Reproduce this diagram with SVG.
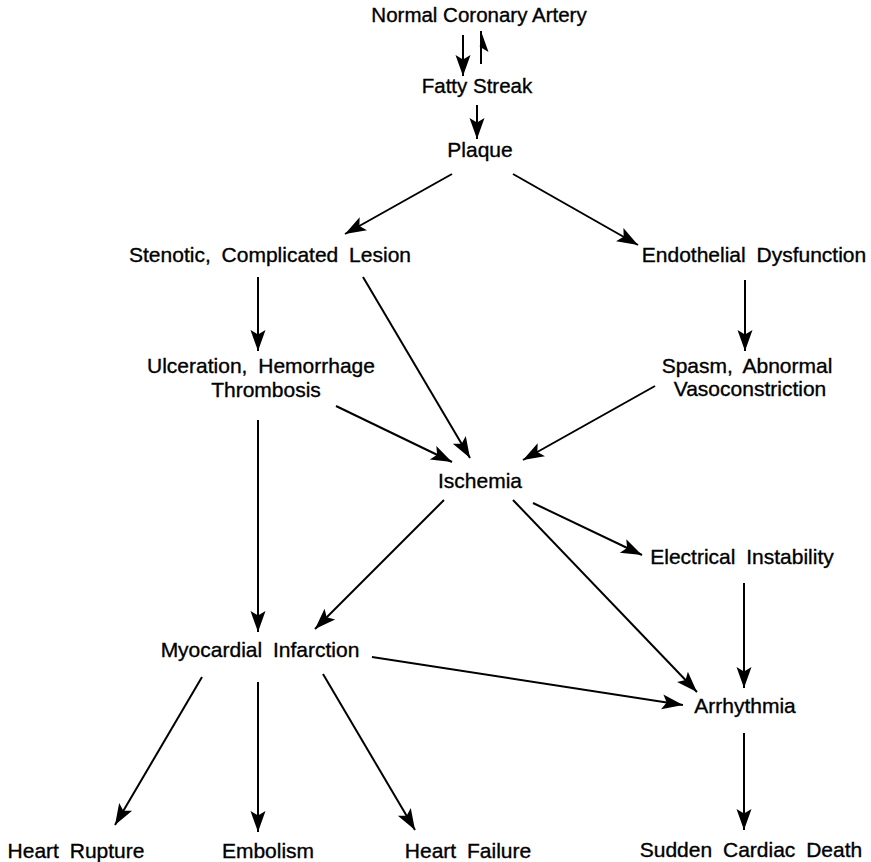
<svg xmlns="http://www.w3.org/2000/svg" width="871" height="862" viewBox="0 0 871 862">
  <style>
    .bg { fill: #ffffff; }
    .lbl { font-family: "Liberation Sans", Arial, Helvetica, sans-serif; font-size: 21px; fill: #000000; stroke: #000000; stroke-width: 0.35px; text-anchor: middle; word-spacing: 5px; }
    .tight { word-spacing: 0px; font-size: 20.5px; }
    .edge { stroke: #000000; stroke-width: 2; fill: none; marker-end: url(#head); }
    .harpoon { marker-end: url(#halfhead); }
  </style>
  <defs>
    <!-- filled arrowhead, slightly notched at the back -->
    <marker id="head" markerUnits="userSpaceOnUse" markerWidth="24" markerHeight="18" viewBox="-1 -9 24 18" refX="21" refY="0" orient="auto">
      <path d="M21,0 L0,-7.5 L4.5,0 L0,7.5 Z" fill="#000000"/>
    </marker>
    <!-- single-barbed head for the reverse step -->
    <marker id="halfhead" markerUnits="userSpaceOnUse" markerWidth="24" markerHeight="18" viewBox="-1 -9 24 18" refX="21" refY="0" orient="auto">
      <path d="M21,0 L0,7.5 L4.5,0 L5,-1.2 Z" fill="#000000"/>
    </marker>
  </defs>

  <rect class="bg" x="0" y="0" width="871" height="862"/>

  <g id="connectors">
    <line class="edge" x1="463" y1="35" x2="463" y2="76"/>
    <line class="edge harpoon" x1="481" y1="64" x2="481" y2="31"/>
    <line class="edge" x1="477" y1="105" x2="477" y2="139"/>
    <line class="edge" x1="452" y1="174" x2="345" y2="234"/>
    <line class="edge" x1="513" y1="174" x2="638" y2="245"/>
    <line class="edge" x1="258" y1="277" x2="258" y2="351"/>
    <line class="edge" x1="363" y1="277" x2="470" y2="458"/>
    <line class="edge" x1="745" y1="280" x2="745" y2="351"/>
    <line class="edge" x1="336" y1="406" x2="452" y2="462"/>
    <line class="edge" x1="655" y1="386" x2="523" y2="460"/>
    <line class="edge" x1="258" y1="420" x2="258" y2="632"/>
    <line class="edge" x1="444" y1="500" x2="315" y2="629"/>
    <line class="edge" x1="533" y1="503" x2="642" y2="555"/>
    <line class="edge" x1="513" y1="500" x2="697" y2="692"/>
    <line class="edge" x1="744" y1="583" x2="744" y2="688"/>
    <line class="edge" x1="372" y1="657" x2="683" y2="705"/>
    <line class="edge" x1="744" y1="733" x2="744" y2="830"/>
    <line class="edge" x1="202" y1="677" x2="115" y2="825"/>
    <line class="edge" x1="258" y1="682" x2="258" y2="832"/>
    <line class="edge" x1="323" y1="674" x2="415" y2="830"/>
  </g>

  <g id="normal-artery"><text class="lbl tight" x="479" y="22">Normal Coronary Artery</text></g>
  <g id="fatty-streak"><text class="lbl tight" x="477" y="93">Fatty Streak</text></g>
  <g id="plaque"><text class="lbl" x="480" y="157">Plaque</text></g>
  <g id="stenotic-lesion"><text class="lbl" x="270" y="262">Stenotic, Complicated Lesion</text></g>
  <g id="endothelial-dysfunction"><text class="lbl" x="754" y="262">Endothelial Dysfunction</text></g>
  <g id="ulceration">
    <text class="lbl" x="261" y="373">Ulceration, Hemorrhage</text>
    <text class="lbl" x="266" y="397">Thrombosis</text>
  </g>
  <g id="spasm">
    <text class="lbl" x="747" y="373">Spasm, Abnormal</text>
    <text class="lbl" x="750" y="396">Vasoconstriction</text>
  </g>
  <g id="ischemia"><text class="lbl" x="480" y="488">Ischemia</text></g>
  <g id="electrical-instability"><text class="lbl" x="742" y="564">Electrical Instability</text></g>
  <g id="myocardial-infarction"><text class="lbl" x="260" y="657">Myocardial Infarction</text></g>
  <g id="arrhythmia"><text class="lbl" x="745" y="713">Arrhythmia</text></g>
  <g id="heart-rupture"><text class="lbl" x="76" y="858">Heart Rupture</text></g>
  <g id="embolism"><text class="lbl" x="268" y="858">Embolism</text></g>
  <g id="heart-failure"><text class="lbl" x="468" y="858">Heart Failure</text></g>
  <g id="sudden-death"><text class="lbl" x="751" y="857">Sudden Cardiac Death</text></g>
</svg>
